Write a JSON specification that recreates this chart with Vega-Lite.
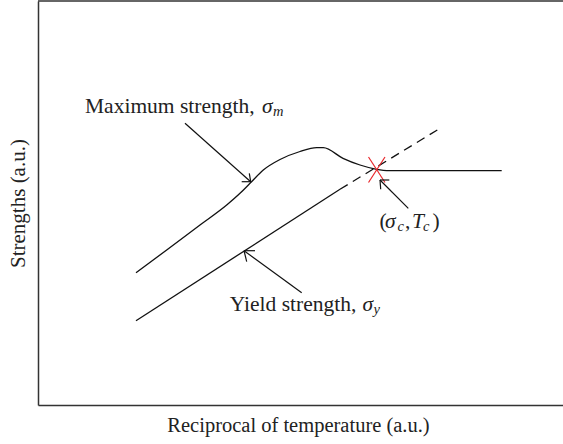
{
  "$schema": "https://vega.github.io/schema/vega-lite/v6.json",
  "width": 525,
  "height": 404,
  "autosize": {"type": "none"},
  "padding": {"left": 38, "top": 1, "right": 0, "bottom": 39},
  "background": "white",
  "config": {"view": {"stroke": null}, "font": "Liberation Serif"},
  "datasets": {
    "maxcurve": [
      {"x": 98, "y": 132.3}, {"x": 128.7, "y": 155}, {"x": 162, "y": 180}, {"x": 188.7, "y": 200},
      {"x": 202, "y": 211.7}, {"x": 212, "y": 221.7}, {"x": 225.3, "y": 235}, {"x": 242, "y": 245.5},
      {"x": 262, "y": 253.5}, {"x": 278.7, "y": 257.3}, {"x": 285.3, "y": 257.3}, {"x": 305, "y": 246.7},
      {"x": 322, "y": 240}, {"x": 338.7, "y": 235.7}, {"x": 348.7, "y": 234.3}, {"x": 463.7, "y": 234.3}
    ],
    "yieldsolid": [{"x": 98, "y": 84.3}, {"x": 302, "y": 215.7}],
    "yielddash": [{"x": 302, "y": 215.7}, {"x": 399.3, "y": 275}],
    "cross": [
      {"x": 330.5, "y": 248, "x2": 347, "y2": 222.5},
      {"x": 347, "y": 248, "x2": 330.5, "y2": 222.5}
    ],
    "arrows": [
      {"x": 147, "y": 281.7, "x2": 212.7, "y2": 223.3},
      {"x": 203.7, "y": 223.3, "x2": 212.7, "y2": 223.3},
      {"x": 211.3, "y": 231.7, "x2": 212.7, "y2": 223.3},
      {"x": 263.7, "y": 112.3, "x2": 206, "y2": 154.3},
      {"x": 217, "y": 154.3, "x2": 206, "y2": 154.3},
      {"x": 208.7, "y": 143.3, "x2": 206, "y2": 154.3},
      {"x": 370.3, "y": 196.7, "x2": 342, "y2": 225},
      {"x": 351.3, "y": 225, "x2": 342, "y2": 225},
      {"x": 342.7, "y": 215.7, "x2": 342, "y2": 225}
    ],
    "textnormal": [
      {"x": 47, "y": 291.7, "t": "Maximum strength,"},
      {"x": 191.7, "y": 94.3, "t": "Yield strength,"},
      {"x": 341.5, "y": 176.7, "t": "("},
      {"x": 367, "y": 176.7, "t": ","},
      {"x": 394.5, "y": 176.7, "t": ")"}
    ],
    "textitalic": [
      {"x": 224, "y": 291.7, "t": "σ"},
      {"x": 324.5, "y": 94.3, "t": "σ"},
      {"x": 347, "y": 176.7, "t": "σ"},
      {"x": 374, "y": 176.7, "t": "T"}
    ],
    "textsub": [
      {"x": 235, "y": 289, "t": "m"},
      {"x": 335.5, "y": 91, "t": "y"},
      {"x": 359.5, "y": 174, "t": "c"},
      {"x": 385, "y": 174, "t": "c"}
    ]
  },
  "layer": [
    {
      "data": {"name": "maxcurve"},
      "mark": {"type": "line", "color": "#111", "strokeWidth": 1.3, "interpolate": "monotone"},
      "encoding": {
        "x": {"field": "x", "type": "quantitative", "scale": {"domain": [0, 525], "nice": false, "zero": false},
          "axis": {"title": "Reciprocal of temperature (a.u.)", "labels": false, "ticks": false, "grid": false,
            "domainColor": "#333", "domainWidth": 1.5, "titleFont": "Liberation Serif", "titleFontSize": 20.5,
            "titleFontWeight": "normal", "titleColor": "#222", "titleBaseline": "alphabetic", "titleY": 26, "titleX": 260, "titleAlign": "center"}},
        "y": {"field": "y", "type": "quantitative", "scale": {"domain": [0, 404], "nice": false, "zero": false},
          "axis": {"title": "Strengths (a.u.)", "labels": false, "ticks": false, "grid": false,
            "domainColor": "#333", "domainWidth": 1.5, "titleFont": "Liberation Serif", "titleFontSize": 21,
            "titleFontWeight": "normal", "titleColor": "#222", "titleBaseline": "alphabetic", "titleAngle": -90, "titleX": -14, "titleY": 202, "titleAlign": "center"}}
      }
    },
    {
      "data": {"name": "yieldsolid"},
      "mark": {"type": "line", "color": "#111", "strokeWidth": 1.3},
      "encoding": {"x": {"field": "x", "type": "quantitative"}, "y": {"field": "y", "type": "quantitative"}}
    },
    {
      "data": {"name": "yielddash"},
      "mark": {"type": "line", "color": "#111", "strokeWidth": 1.3, "strokeDash": [9, 6]},
      "encoding": {"x": {"field": "x", "type": "quantitative"}, "y": {"field": "y", "type": "quantitative"}}
    },
    {
      "data": {"values": [{"y": 404}]},
      "mark": {"type": "rule", "color": "#333", "strokeWidth": 1.5},
      "encoding": {"y": {"field": "y", "type": "quantitative"}}
    },
    {
      "data": {"name": "cross"},
      "mark": {"type": "rule", "color": "#e8262a", "strokeWidth": 1.2},
      "encoding": {"x": {"field": "x", "type": "quantitative"}, "y": {"field": "y", "type": "quantitative"},
        "x2": {"field": "x2"}, "y2": {"field": "y2"}}
    },
    {
      "data": {"name": "arrows"},
      "mark": {"type": "rule", "color": "#111", "strokeWidth": 1.2},
      "encoding": {"x": {"field": "x", "type": "quantitative"}, "y": {"field": "y", "type": "quantitative"},
        "x2": {"field": "x2"}, "y2": {"field": "y2"}}
    },
    {
      "data": {"name": "textnormal"},
      "mark": {"type": "text", "font": "Liberation Serif", "fontSize": 21.5, "align": "left", "baseline": "alphabetic", "color": "#222"},
      "encoding": {"x": {"field": "x", "type": "quantitative"}, "y": {"field": "y", "type": "quantitative"}, "text": {"field": "t"}}
    },
    {
      "data": {"name": "textitalic"},
      "mark": {"type": "text", "font": "Liberation Serif", "fontStyle": "italic", "fontSize": 21.5, "align": "left", "baseline": "alphabetic", "color": "#222"},
      "encoding": {"x": {"field": "x", "type": "quantitative"}, "y": {"field": "y", "type": "quantitative"}, "text": {"field": "t"}}
    },
    {
      "data": {"name": "textsub"},
      "mark": {"type": "text", "font": "Liberation Serif", "fontStyle": "italic", "fontSize": 14.5, "align": "left", "baseline": "alphabetic", "color": "#222"},
      "encoding": {"x": {"field": "x", "type": "quantitative"}, "y": {"field": "y", "type": "quantitative"}, "text": {"field": "t"}}
    }
  ]
}
